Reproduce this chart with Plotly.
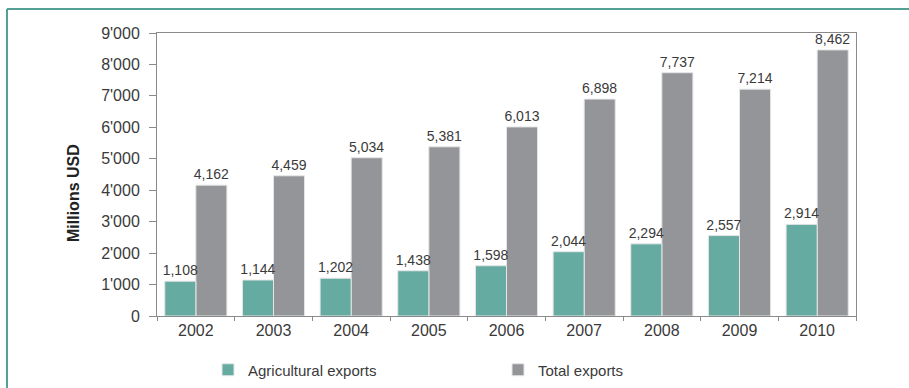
import plotly.graph_objects as go

# Export values in millions of USD
years = ["2002", "2003", "2004", "2005", "2006", "2007", "2008", "2009", "2010"]
agricultural_exports = [1108, 1144, 1202, 1438, 1598, 2044, 2294, 2557, 2914]
total_exports = [4162, 4459, 5034, 5381, 6013, 6898, 7737, 7214, 8462]

y_tick_values = [0, 1000, 2000, 3000, 4000, 5000, 6000, 7000, 8000, 9000]
y_tick_labels = ["0", "1'000", "2'000", "3'000", "4'000", "5'000", "6'000", "7'000", "8'000", "9'000"]

TEAL = "#65aba2"
GREY = "#939598"
FRAME = "#55a096"
TEXT = "#3a3a3a"
AXIS = "#8a8a8a"
FONT = "Liberation Sans, Arial, sans-serif"

W, H = 909, 388
L, R, T, B = 157, 53, 33, 72
pw, ph = W - L - R, H - T - B
BAR_W = 0.4  # width of each bar, in category units


def px_x(px):
    return (px - L) / pw


def px_y(py):
    return (H - B - py) / ph


label_font = dict(family=FONT, size=14, color=TEXT)
bar_line = dict(color="#e6e6e6", width=1)

fig = go.Figure()
# Total exports drawn first so the agricultural labels sit on top of the grey bars
fig.add_trace(go.Bar(
    x=years, y=total_exports, name="Total exports",
    width=BAR_W, offset=0,
    marker=dict(color=GREY, line=bar_line),
    text=total_exports, texttemplate="%{y:,}", textposition="outside",
    constraintext="none", textfont=label_font, cliponaxis=False,
))
fig.add_trace(go.Bar(
    x=years, y=agricultural_exports, name="Agricultural exports",
    width=BAR_W, offset=-BAR_W,
    marker=dict(color=TEAL, line=bar_line),
    text=agricultural_exports, texttemplate="%{y:,}", textposition="outside",
    constraintext="none", textfont=label_font, cliponaxis=False,
))

fig.update_layout(
    width=W, height=H,
    margin=dict(l=L, r=R, t=T, b=B, autoexpand=False),
    paper_bgcolor="white", plot_bgcolor="white",
    barmode="overlay",
    font=dict(family=FONT, color=TEXT),
    legend=dict(
        orientation="h", traceorder="reversed",
        x=px_x(208), xanchor="left", y=px_y(370), yanchor="middle",
        font=dict(family=FONT, size=15, color=TEXT),
        entrywidth=245, entrywidthmode="pixels",
        bgcolor="rgba(0,0,0,0)",
    ),
    xaxis=dict(
        showline=True, linecolor=AXIS, linewidth=1, mirror=True,
        ticks="outside", ticklen=4, tickcolor=AXIS, tickson="boundaries",
        tickfont=dict(family=FONT, size=16, color=TEXT),
        showgrid=False, zeroline=False,
    ),
    yaxis=dict(
        range=[0, 9000], tickvals=y_tick_values, ticktext=y_tick_labels,
        showline=True, linecolor=AXIS, linewidth=1, mirror=True,
        ticks="outside", ticklen=7, tickcolor=AXIS, ticklabelstandoff=6,
        tickfont=dict(family=FONT, size=16, color=TEXT),
        showgrid=False, zeroline=False,
    ),
    annotations=[dict(
        text="<b>Millions USD</b>", textangle=-90,
        xref="paper", yref="paper", x=px_x(73), y=px_y(193),
        xanchor="center", yanchor="middle", showarrow=False,
        font=dict(family="Liberation Sans Narrow, Arial Narrow, Liberation Sans, sans-serif",
                  size=16, color="#222222"),
    )],
    shapes=[
        # Teal frame around the figure (top and left edges visible)
        dict(type="line", xref="paper", yref="paper",
             x0=px_x(7), y0=px_y(9), x1=px_x(W + 10), y1=px_y(9),
             line=dict(color=FRAME, width=2)),
        dict(type="line", xref="paper", yref="paper",
             x0=px_x(7), y0=px_y(9), x1=px_x(7), y1=px_y(H + 10),
             line=dict(color=FRAME, width=2)),
    ],
)

fig.write_html("out.html")
